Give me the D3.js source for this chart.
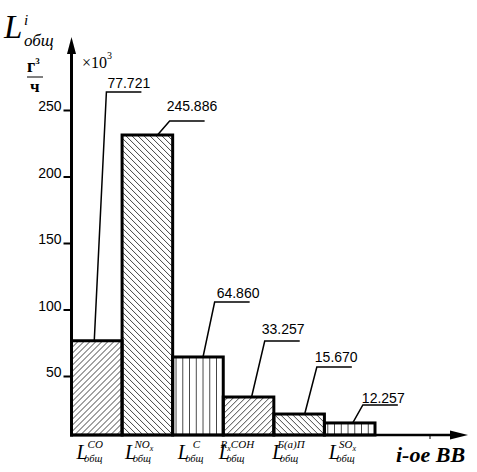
<!DOCTYPE html>
<html><head><meta charset="utf-8">
<script src="https://cdn.jsdelivr.net/npm/d3@7"></script>
<style>body{margin:0;background:#fff}svg{display:block}</style>
</head><body>
<svg id="c" width="477" height="472"></svg>
<script>
// ---- data ----
const categories = ["CO", "NOx", "C", "RxCOH", "BaP", "SOx"];
const supLabels = ["CO", "NO_x", "C", "R_xCOH", "Б(а)П", "SO_x"];
const barValues = [76.5, 231.2, 64.3, 34.2, 21.4, 14.7];   // heights as drawn
const valueLabels = ["77.721", "245.886", "64.860", "33.257", "15.670", "12.257"];
const yTicks = [50, 100, 150, 200, 250];

// ---- layout / style ----
const hatchTypes = ["fwd", "back", "vert", "fwd", "back", "vert"];
const calloutLevels = [263.5, 241.7, 105.6, 76.3, 56.8, 28.2]; // in y units
const calloutBottom = [0.45, 0.70, 0.60, 0.56, 0.61, 0.56];     // fraction of band
const calloutTop = [0.69, 0.94, 0.83, 0.82, 0.85, 0.76];
const textGap = [4, 10, 4, 7, 5, 2];
const textDx = [1, -3, 2, -3, -2, -1];
const baseY = 435, axisX = 71.5;
const serif = "'Liberation Serif','DejaVu Serif',serif";
const sans = "'Liberation Sans',Arial,sans-serif";

const svg = d3.select("#c");
const x = d3.scaleBand().domain(categories).range([axisX, 375]).padding(0);
const y = d3.scaleLinear().domain([0, 250]).range([442.5, 110]);

// patterns
const defs = svg.append("defs");
categories.forEach((c, i) => {
  const t = hatchTypes[i];
  const w = t === "vert" ? x.bandwidth() / 7.5 : 6;
  const p = defs.append("pattern").attr("id", "h" + i)
    .attr("patternUnits", "userSpaceOnUse")
    .attr("x", x(c)).attr("y", 0).attr("width", w).attr("height", 6);
  let d;
  if (t === "fwd") d = "M0,6 L6,0 M-1,1 L1,-1 M5,7 L7,5";
  else if (t === "back") d = "M0,0 L6,6 M-1,5 L1,7 M5,-1 L7,1";
  else d = `M${w / 2},0 L${w / 2},6`;
  p.append("path").attr("d", d).attr("stroke", "#444").attr("stroke-width", 1).attr("fill", "none");
});

// bars
svg.append("g").selectAll("rect").data(categories).join("rect")
  .attr("x", d => x(d))
  .attr("y", (d, i) => y(barValues[i]))
  .attr("width", x.bandwidth())
  .attr("height", (d, i) => baseY - y(barValues[i]))
  .attr("fill", (d, i) => `url(#h${i})`)
  .attr("stroke", "#000").attr("stroke-width", 3);

// callouts
const co = svg.append("g");
categories.forEach((c, i) => {
  const bx = x(c) + calloutBottom[i] * x.bandwidth();
  const by = y(barValues[i]);
  const tx = x(c) + calloutTop[i] * x.bandwidth();
  const ty = y(calloutLevels[i]);
  co.append("path").attr("d", `M${bx},${by} L${tx},${ty} L${tx + 35},${ty}`)
    .attr("fill", "none").attr("stroke", "#000").attr("stroke-width", 1.5);
  co.append("text").attr("x", tx + textDx[i]).attr("y", ty - textGap[i])
    .attr("font-family", sans).attr("font-size", 14).text(valueLabels[i]);
});

// y axis
const gy = svg.append("g").attr("transform", `translate(${axisX},0)`)
  .call(d3.axisLeft(y).tickValues(yTicks).tickSize(8).tickPadding(2));
gy.select(".domain").remove();
gy.selectAll(".tick line").attr("stroke", "#000").attr("stroke-width", 2);
gy.selectAll(".tick text").attr("dy", "0.05em").attr("font-family", sans)
  .attr("font-size", 14).attr("fill", "#000");
svg.append("line").attr("x1", axisX).attr("x2", axisX).attr("y1", baseY + 1.5).attr("y2", 50)
  .attr("stroke", "#000").attr("stroke-width", 3);
svg.append("path").attr("d", `M${axisX},37 L${axisX - 4.5},54 L${axisX + 4.5},54 Z`).attr("fill", "#000");

// x axis
const gx = svg.append("g").attr("transform", `translate(0,${baseY})`)
  .call(d3.axisBottom(x).tickSize(0).tickFormat(""));
gx.select(".domain").remove();
svg.append("line").attr("x1", axisX).attr("x2", 452).attr("y1", baseY).attr("y2", baseY)
  .attr("stroke", "#000").attr("stroke-width", 2.5);
svg.append("path").attr("d", `M468,${baseY} L450,${baseY - 4.5} L450,${baseY + 4.5} Z`).attr("fill", "#000");
svg.append("line").attr("x1", 430).attr("x2", 430).attr("y1", baseY).attr("y2", baseY + 4)
  .attr("stroke", "#000").attr("stroke-width", 1);

gx.selectAll(".tick").each(function (d, i) {
  const g = d3.select(this).append("g");
  const L = g.append("text").attr("x", 0).attr("y", 24).attr("font-family", serif)
    .attr("font-style", "italic").attr("font-size", 20).attr("fill", "#000").text("L");
  const lw = L.node().getComputedTextLength();
  const sup = g.append("text").attr("x", lw + 2).attr("y", 13).attr("font-family", serif)
    .attr("font-style", "italic").attr("font-size", 11).attr("fill", "#000");
  supLabels[i].split(/_(\w)/).forEach((s, k) => {
    if (!s) return;
    if (k % 2) sup.append("tspan").attr("font-size", 8).attr("dy", 3).text(s);
    else sup.append("tspan").attr("dy", k ? -3 : 0).text(s);
  });
  const sub = g.append("text").attr("x", lw).attr("y", 27).attr("font-family", serif)
    .attr("font-style", "italic").attr("font-size", 10.5).attr("fill", "#000").text("общ");
  const tw = lw + Math.max(sup.node().getBBox().width + 2, sub.node().getComputedTextLength());
  g.attr("transform", `translate(${-tw / 2},0)`);
});

svg.append("text").attr("x", 396).attr("y", 462).attr("font-family", serif)
  .attr("font-style", "italic").attr("font-weight", "bold").attr("font-size", 22).text("i-ое ВВ");

// y title
const yt = svg.append("g").attr("font-family", serif).attr("font-style", "italic");
yt.append("text").attr("x", 4).attr("y", 38).attr("font-size", 33).text("L");
yt.append("text").attr("x", 24).attr("y", 25).attr("font-size", 15).text("i");
yt.append("text").attr("x", 24).attr("y", 46).attr("font-size", 17).text("общ");

// units
const un = svg.append("g").attr("font-family", serif).attr("font-weight", "bold");
un.append("text").attr("x", 27).attr("y", 72).attr("font-size", 18).text("г")
  .append("tspan").attr("font-size", 9).attr("dy", -8).text("3");
un.append("line").attr("x1", 27).attr("x2", 43).attr("y1", 77).attr("y2", 77)
  .attr("stroke", "#000").attr("stroke-width", 1);
un.append("text").attr("x", 30).attr("y", 92).attr("font-size", 17).text("ч");

svg.append("text").attr("x", 82).attr("y", 68).attr("font-family", serif).attr("font-size", 16)
  .text("×10").append("tspan").attr("font-size", 10).attr("dy", -9).text("3");
</script>
</body></html>
